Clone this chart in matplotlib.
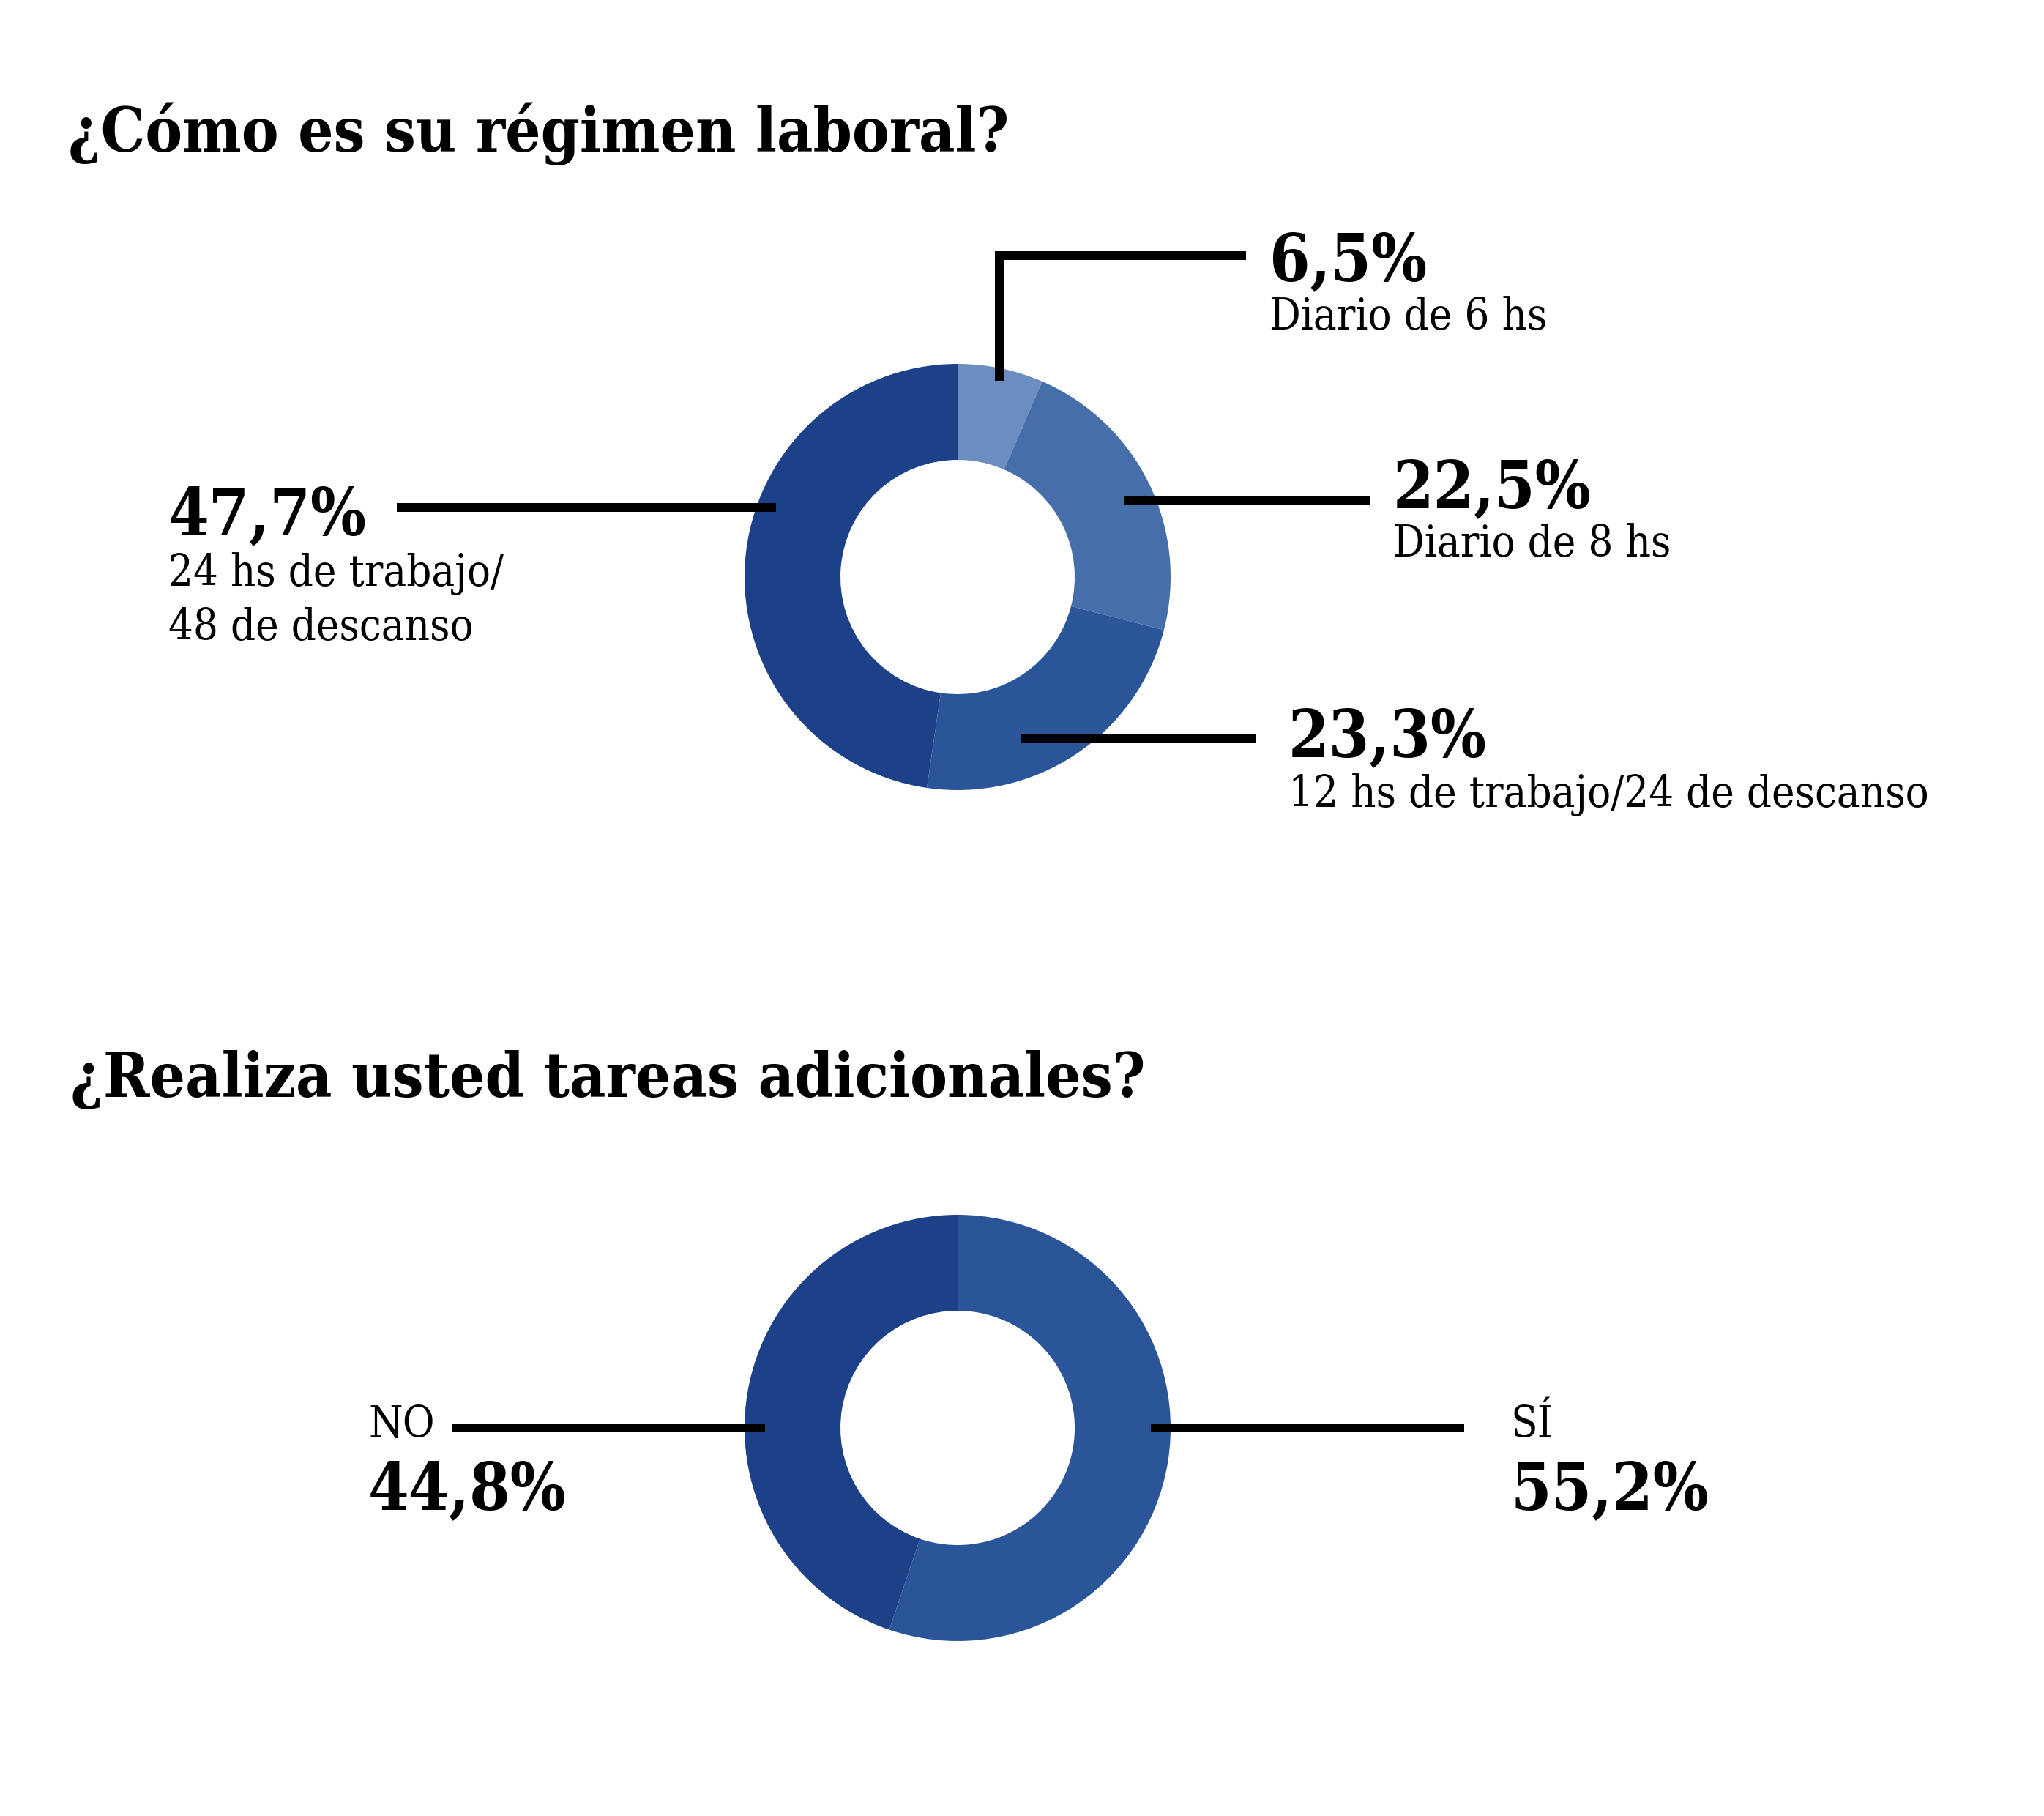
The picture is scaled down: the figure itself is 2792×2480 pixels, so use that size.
import matplotlib
matplotlib.use("Agg")
import matplotlib.pyplot as plt
from matplotlib import font_manager as fm

# ---------------- data ----------------
title_top = "¿Cómo es su régimen laboral?"
top_values = [6.5, 22.5, 23.3, 47.7]
top_desc = ["Diario de 6 hs", "Diario de 8 hs",
            "12 hs de trabajo/24 de descanso", "24 hs de trabajo/\n48 de descanso"]
top_colors = ["#6C8DBF", "#456EAB", "#2A5699", "#1D4188"]

title_bottom = "¿Realiza usted tareas adicionales?"
bottom_labels = ["SÍ", "NO"]
bottom_values = [55.2, 44.8]
bottom_colors = ["#2A5699", "#1D4188"]


def pct(v):
    return f"{v:.1f}".replace(".", ",") + "%"


W, H = 2792, 2480
DPI = 100
fig = plt.figure(figsize=(W / DPI, H / DPI), dpi=DPI, facecolor="white")
ax = fig.add_axes([0, 0, 1, 1])

FAM = "DejaVu Serif"
# check for a condensed variant
has_cond = any("DejaVu Serif" in f.name and f.stretch in ("condensed", 500, "semi-condensed")
               or "Condensed" in f.fname and "Serif" in f.fname for f in fm.fontManager.ttflist)
STRETCH = "condensed" if has_cond else "normal"

# ---------------- donuts ----------------
R_OUT, R_W = 291, 131
c1 = (1308, 788)
c2 = (1308, 1950)
ax.pie(top_values, colors=top_colors, startangle=-90, counterclock=True,
       center=c1, radius=R_OUT, wedgeprops=dict(width=R_W, linewidth=0))
ax.pie(bottom_values, colors=bottom_colors, startangle=-90, counterclock=True,
       center=c2, radius=R_OUT, wedgeprops=dict(width=R_W, linewidth=0))

ax.set_xlim(0, W)
ax.set_ylim(H, 0)
ax.set_aspect("equal", adjustable="datalim")
ax.axis("off")

# ---------------- leader lines ----------------
LW = 12 * 72 / DPI
line_kw = dict(color="black", lw=LW, solid_capstyle="butt", solid_joinstyle="miter")
ax.plot([1365, 1365, 1702], [520, 349, 349], **line_kw)      # 6,5%
ax.plot([1535, 1872], [684, 684], **line_kw)                 # 22,5%
ax.plot([1395, 1716], [1008, 1008], **line_kw)               # 23,3%
ax.plot([542, 1060], [693, 693], **line_kw)                  # 47,7%
ax.plot([617, 1045], [1950, 1950], **line_kw)                # NO
ax.plot([1572, 2000], [1950, 1950], **line_kw)               # SÍ

# ---------------- texts ----------------
renderer = fig.canvas.get_renderer()

bold_kw = dict(family=FAM, fontstretch=STRETCH, fontweight="bold", color="black",
               ha="left", va="baseline")
reg_kw = dict(family=FAM, fontstretch=STRETCH, fontweight="normal", color="black",
              ha="left", va="baseline")

titles = [
    ax.text(93, 207, title_top, **bold_kw),
    ax.text(96, 1498, title_bottom, **bold_kw),
]
title_targets = [1286, 1472]

pct_texts = [
    ax.text(1734, 383, pct(top_values[0]), **bold_kw),
    ax.text(1903, 693, pct(top_values[1]), **bold_kw),
    ax.text(1760, 1033, pct(top_values[2]), **bold_kw),
    ax.text(230, 730, pct(top_values[3]), **bold_kw),
    ax.text(2064, 2061, pct(bottom_values[0]), **bold_kw),
    ax.text(503, 2061, pct(bottom_values[1]), **bold_kw),
]
pct_targets = [210, 261, 258, 253, 257, 273]

d4 = top_desc[3].split("\n")
sub_texts = [
    ax.text(1734, 450, top_desc[0], **reg_kw),
    ax.text(1903, 760, top_desc[1], **reg_kw),
    ax.text(1760, 1102, top_desc[2], **reg_kw),
    ax.text(230, 800, d4[0], **reg_kw),
    ax.text(230, 874, d4[1], **reg_kw),
]
sub_targets = [368, 369, 847, 451, 426]

small_lbl = [
    ax.text(2064, 1963, bottom_labels[0], **reg_kw),
    ax.text(503, 1963, bottom_labels[1], **reg_kw),
]


def fit_group(texts, targets, boost=1.0):
    for t in texts:
        t.set_fontsize(50)
    meas = sum(t.get_window_extent(renderer).width for t in texts)
    size = 50 * sum(targets) / meas * boost
    for t in texts:
        t.set_fontsize(size)
    return size


for t, tg in zip(titles, title_targets):
    fit_group([t], [tg], 1.0)
fit_group(pct_texts, pct_targets, 1.04)
s = fit_group(sub_texts, sub_targets, 1.02)
for t in small_lbl:
    t.set_fontsize(s)

fig.savefig("out.png", dpi=DPI, facecolor="white")
